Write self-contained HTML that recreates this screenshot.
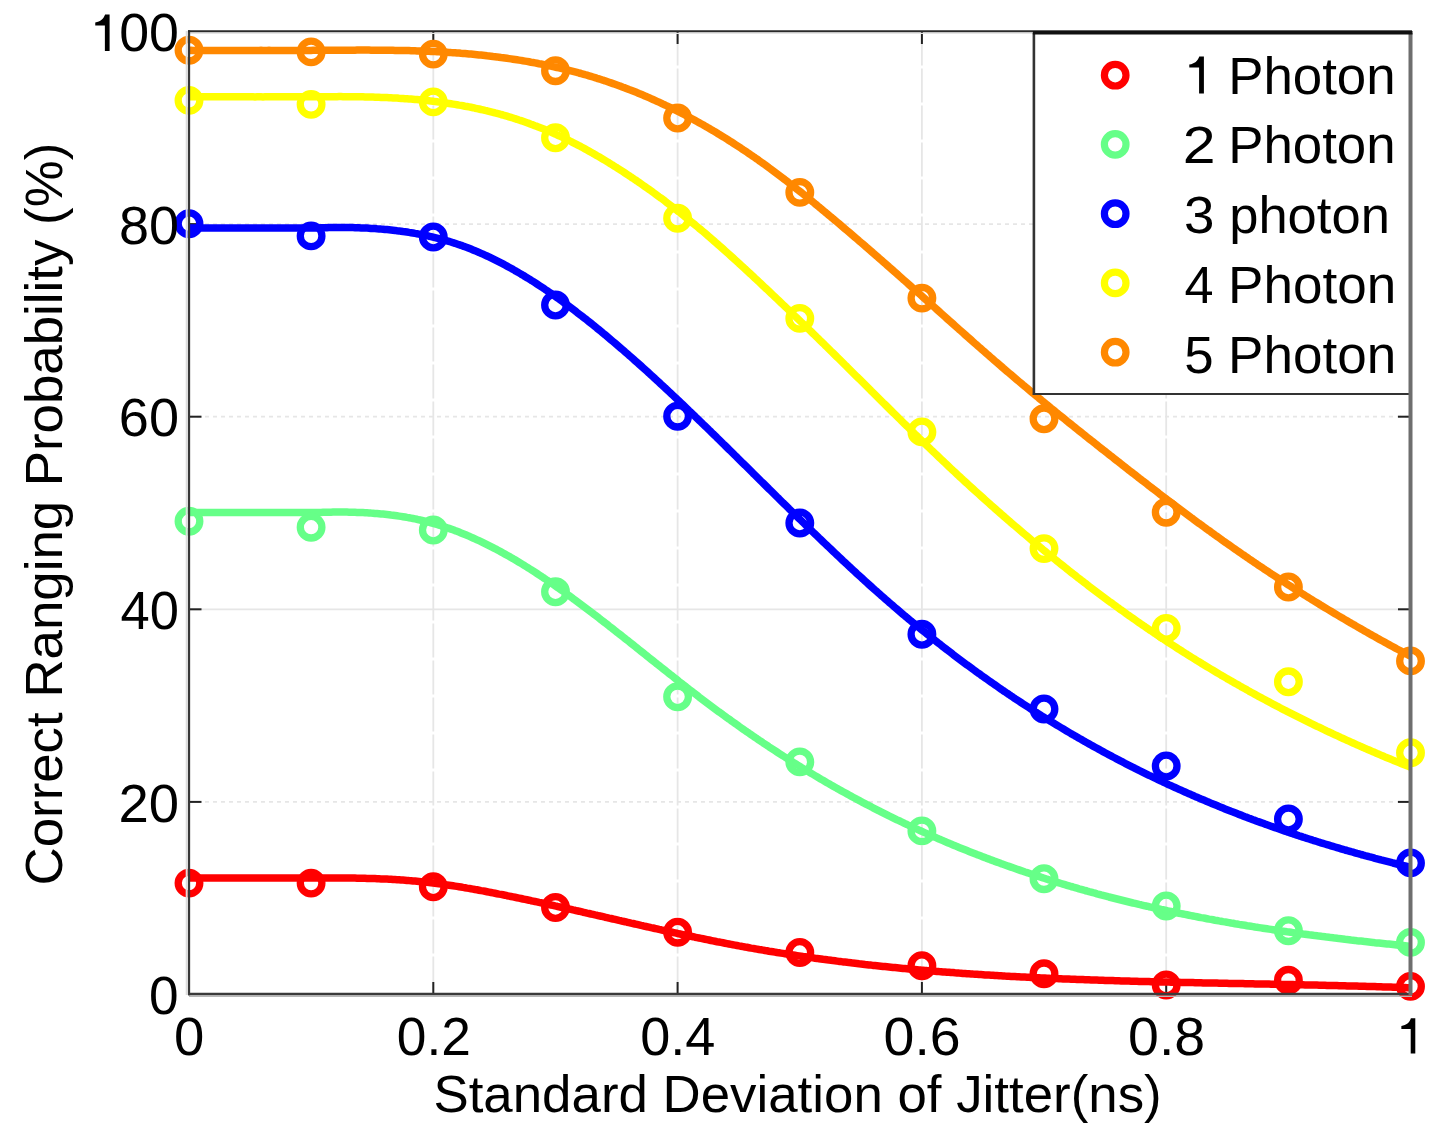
<!DOCTYPE html>
<html><head><meta charset="utf-8"><style>
html,body{margin:0;padding:0;background:#fff;width:1453px;height:1148px;overflow:hidden;font-family:"Liberation Sans",sans-serif;}
svg{display:block}
</style></head><body>
<svg width="1453" height="1148" viewBox="0 0 1453 1148">
<rect width="1453" height="1148" fill="#fff"/>
<g stroke="#e6e6e6" stroke-width="1.8"><line x1="189.0" y1="801.9" x2="1410.5" y2="801.9" stroke-dasharray="4 4"/><line x1="189.0" y1="416.7" x2="1410.5" y2="416.7" stroke-dasharray="4 4"/><line x1="189.0" y1="224.1" x2="1410.5" y2="224.1" stroke-dasharray="4 4"/><line x1="189.0" y1="609.3" x2="1410.5" y2="609.3"/><line x1="433.3" y1="31.5" x2="433.3" y2="994.5" stroke-dasharray="34 3"/><line x1="677.6" y1="31.5" x2="677.6" y2="994.5" stroke-dasharray="34 3"/><line x1="921.9" y1="31.5" x2="921.9" y2="994.5" stroke-dasharray="34 3"/><line x1="1166.2" y1="31.5" x2="1166.2" y2="994.5" stroke-dasharray="34 3"/></g>
<g stroke="#222" stroke-width="2"><line x1="433.3" y1="994.5" x2="433.3" y2="982.0"/><line x1="433.3" y1="31.5" x2="433.3" y2="44.0"/><line x1="677.6" y1="994.5" x2="677.6" y2="982.0"/><line x1="677.6" y1="31.5" x2="677.6" y2="44.0"/><line x1="921.9" y1="994.5" x2="921.9" y2="982.0"/><line x1="921.9" y1="31.5" x2="921.9" y2="44.0"/><line x1="1166.2" y1="994.5" x2="1166.2" y2="982.0"/><line x1="1166.2" y1="31.5" x2="1166.2" y2="44.0"/><line x1="189.0" y1="801.9" x2="201.5" y2="801.9"/><line x1="1410.5" y1="801.9" x2="1398.0" y2="801.9"/><line x1="189.0" y1="609.3" x2="201.5" y2="609.3"/><line x1="1410.5" y1="609.3" x2="1398.0" y2="609.3"/><line x1="189.0" y1="416.7" x2="201.5" y2="416.7"/><line x1="1410.5" y1="416.7" x2="1398.0" y2="416.7"/><line x1="189.0" y1="224.1" x2="201.5" y2="224.1"/><line x1="1410.5" y1="224.1" x2="1398.0" y2="224.1"/></g>
<polyline points="189.0,878.1 191.0,878.1 193.0,878.1 195.0,878.1 197.0,878.1 199.0,878.1 201.0,878.1 203.0,878.1 205.0,878.1 207.0,878.1 209.0,878.1 211.0,878.1 213.0,878.1 215.0,878.1 217.0,878.1 219.0,878.1 221.0,878.1 223.0,878.1 225.0,878.1 227.0,878.1 229.0,878.1 231.0,878.1 233.0,878.1 235.0,878.1 237.0,878.1 239.0,878.1 241.0,878.1 243.0,878.1 245.0,878.1 247.0,878.1 249.0,878.1 251.0,878.1 253.0,878.1 255.0,878.1 257.0,878.1 259.0,878.1 261.0,878.1 263.0,878.1 265.0,878.1 267.0,878.1 269.0,878.1 271.0,878.1 273.0,878.1 275.0,878.1 277.0,878.1 279.0,878.1 281.0,878.1 283.0,878.1 285.0,878.1 287.0,878.1 289.0,878.1 291.0,878.1 293.0,878.1 295.0,878.1 297.0,878.1 299.0,878.1 301.0,878.1 303.0,878.1 305.0,878.1 307.0,878.1 309.0,878.1 311.0,878.1 313.0,878.1 315.0,878.1 317.0,878.1 319.0,878.1 321.0,878.1 323.0,878.1 325.0,878.0 327.0,878.0 329.0,878.0 331.0,878.0 333.0,878.0 335.0,878.0 337.0,878.0 339.0,878.0 341.0,878.0 343.0,878.0 345.0,878.0 347.0,878.0 349.0,878.0 351.0,878.1 353.0,878.1 355.0,878.1 357.0,878.2 359.0,878.2 361.0,878.2 363.0,878.3 365.0,878.3 367.0,878.4 369.0,878.4 371.0,878.5 373.0,878.6 375.0,878.6 377.0,878.7 379.0,878.8 381.0,878.9 383.0,878.9 385.0,879.0 387.0,879.1 389.0,879.2 391.0,879.3 393.0,879.5 395.0,879.6 397.0,879.7 399.0,879.8 401.0,880.0 403.0,880.1 405.0,880.2 407.0,880.4 409.0,880.6 411.0,880.7 413.0,880.9 415.0,881.1 417.0,881.3 419.0,881.5 421.0,881.7 423.0,881.9 425.0,882.1 427.0,882.3 429.0,882.5 431.0,882.8 433.0,883.0 435.0,883.2 437.0,883.5 439.0,883.8 441.0,884.0 443.0,884.3 445.0,884.6 447.0,884.9 449.0,885.2 451.0,885.5 453.0,885.8 455.0,886.1 457.0,886.4 459.0,886.7 461.0,887.0 463.0,887.4 465.0,887.7 467.0,888.1 469.0,888.4 471.0,888.8 473.0,889.1 475.0,889.5 477.0,889.8 479.0,890.2 481.0,890.6 483.0,890.9 485.0,891.3 487.0,891.7 489.0,892.1 491.0,892.5 493.0,892.9 495.0,893.3 497.0,893.7 499.0,894.1 501.0,894.4 503.0,894.8 505.0,895.2 507.0,895.7 509.0,896.1 511.0,896.5 513.0,896.9 515.0,897.3 517.0,897.7 519.0,898.1 521.0,898.5 523.0,899.0 525.0,899.4 527.0,899.8 529.0,900.2 531.0,900.7 533.0,901.1 535.0,901.5 537.0,901.9 539.0,902.4 541.0,902.8 543.0,903.2 545.0,903.7 547.0,904.1 549.0,904.6 551.0,905.0 553.0,905.4 555.0,905.9 557.0,906.3 559.0,906.8 561.0,907.2 563.0,907.7 565.0,908.1 567.0,908.5 569.0,909.0 571.0,909.4 573.0,909.9 575.0,910.3 577.0,910.8 579.0,911.2 581.0,911.7 583.0,912.2 585.0,912.6 587.0,913.1 589.0,913.5 591.0,914.0 593.0,914.4 595.0,914.9 597.0,915.3 599.0,915.8 601.0,916.2 603.0,916.7 605.0,917.2 607.0,917.6 609.0,918.1 611.0,918.5 613.0,919.0 615.0,919.4 617.0,919.9 619.0,920.4 621.0,920.8 623.0,921.3 625.0,921.7 627.0,922.2 629.0,922.6 631.0,923.1 633.0,923.5 635.0,924.0 637.0,924.4 639.0,924.9 641.0,925.4 643.0,925.8 645.0,926.3 647.0,926.7 649.0,927.1 651.0,927.6 653.0,928.0 655.0,928.5 657.0,928.9 659.0,929.4 661.0,929.8 663.0,930.3 665.0,930.7 667.0,931.1 669.0,931.6 671.0,932.0 673.0,932.5 675.0,932.9 677.0,933.3 679.0,933.8 681.0,934.2 683.0,934.6 685.0,935.0 687.0,935.5 689.0,935.9 691.0,936.3 693.0,936.7 695.0,937.2 697.0,937.6 699.0,938.0 701.0,938.4 703.0,938.8 705.0,939.2 707.0,939.6 709.0,940.0 711.0,940.5 713.0,940.9 715.0,941.3 717.0,941.7 719.0,942.0 721.0,942.4 723.0,942.8 725.0,943.2 727.0,943.6 729.0,944.0 731.0,944.4 733.0,944.8 735.0,945.1 737.0,945.5 739.0,945.9 741.0,946.2 743.0,946.6 745.0,947.0 747.0,947.3 749.0,947.7 751.0,948.1 753.0,948.4 755.0,948.8 757.0,949.1 759.0,949.5 761.0,949.8 763.0,950.1 765.0,950.5 767.0,950.8 769.0,951.2 771.0,951.5 773.0,951.8 775.0,952.1 777.0,952.5 779.0,952.8 781.0,953.1 783.0,953.4 785.0,953.7 787.0,954.0 789.0,954.4 791.0,954.7 793.0,955.0 795.0,955.3 797.0,955.6 799.0,955.9 801.0,956.2 803.0,956.5 805.0,956.7 807.0,957.0 809.0,957.3 811.0,957.6 813.0,957.9 815.0,958.2 817.0,958.4 819.0,958.7 821.0,959.0 823.0,959.3 825.0,959.5 827.0,959.8 829.0,960.1 831.0,960.3 833.0,960.6 835.0,960.8 837.0,961.1 839.0,961.4 841.0,961.6 843.0,961.9 845.0,962.1 847.0,962.3 849.0,962.6 851.0,962.8 853.0,963.1 855.0,963.3 857.0,963.5 859.0,963.8 861.0,964.0 863.0,964.2 865.0,964.5 867.0,964.7 869.0,964.9 871.0,965.1 873.0,965.4 875.0,965.6 877.0,965.8 879.0,966.0 881.0,966.2 883.0,966.4 885.0,966.6 887.0,966.8 889.0,967.0 891.0,967.2 893.0,967.4 895.0,967.6 897.0,967.8 899.0,968.0 901.0,968.2 903.0,968.4 905.0,968.6 907.0,968.8 909.0,969.0 911.0,969.2 913.0,969.3 915.0,969.5 917.0,969.7 919.0,969.9 921.0,970.1 923.0,970.2 925.0,970.4 927.0,970.6 929.0,970.7 931.0,970.9 933.0,971.1 935.0,971.2 937.0,971.4 939.0,971.6 941.0,971.7 943.0,971.9 945.0,972.0 947.0,972.2 949.0,972.3 951.0,972.5 953.0,972.6 955.0,972.8 957.0,972.9 959.0,973.1 961.0,973.2 963.0,973.4 965.0,973.5 967.0,973.7 969.0,973.8 971.0,973.9 973.0,974.1 975.0,974.2 977.0,974.3 979.0,974.5 981.0,974.6 983.0,974.7 985.0,974.9 987.0,975.0 989.0,975.1 991.0,975.2 993.0,975.3 995.0,975.5 997.0,975.6 999.0,975.7 1001.0,975.8 1003.0,975.9 1005.0,976.1 1007.0,976.2 1009.0,976.3 1011.0,976.4 1013.0,976.5 1015.0,976.6 1017.0,976.7 1019.0,976.8 1021.0,976.9 1023.0,977.0 1025.0,977.1 1027.0,977.2 1029.0,977.3 1031.0,977.4 1033.0,977.5 1035.0,977.6 1037.0,977.7 1039.0,977.8 1041.0,977.9 1043.0,978.0 1045.0,978.1 1047.0,978.2 1049.0,978.3 1051.0,978.4 1053.0,978.4 1055.0,978.5 1057.0,978.6 1059.0,978.7 1061.0,978.8 1063.0,978.9 1065.0,978.9 1067.0,979.0 1069.0,979.1 1071.0,979.2 1073.0,979.3 1075.0,979.3 1077.0,979.4 1079.0,979.5 1081.0,979.6 1083.0,979.6 1085.0,979.7 1087.0,979.8 1089.0,979.8 1091.0,979.9 1093.0,980.0 1095.0,980.1 1097.0,980.1 1099.0,980.2 1101.0,980.3 1103.0,980.3 1105.0,980.4 1107.0,980.4 1109.0,980.5 1111.0,980.6 1113.0,980.6 1115.0,980.7 1117.0,980.8 1119.0,980.8 1121.0,980.9 1123.0,980.9 1125.0,981.0 1127.0,981.0 1129.0,981.1 1131.0,981.2 1133.0,981.2 1135.0,981.3 1137.0,981.3 1139.0,981.4 1141.0,981.4 1143.0,981.5 1145.0,981.5 1147.0,981.6 1149.0,981.6 1151.0,981.7 1153.0,981.7 1155.0,981.8 1157.0,981.8 1159.0,981.9 1161.0,981.9 1163.0,982.0 1165.0,982.0 1167.0,982.1 1169.0,982.1 1171.0,982.2 1173.0,982.2 1175.0,982.3 1177.0,982.3 1179.0,982.3 1181.0,982.4 1183.0,982.4 1185.0,982.5 1187.0,982.5 1189.0,982.6 1191.0,982.6 1193.0,982.6 1195.0,982.7 1197.0,982.7 1199.0,982.8 1201.0,982.8 1203.0,982.9 1205.0,982.9 1207.0,982.9 1209.0,983.0 1211.0,983.0 1213.0,983.1 1215.0,983.1 1217.0,983.1 1219.0,983.2 1221.0,983.2 1223.0,983.3 1225.0,983.3 1227.0,983.3 1229.0,983.4 1231.0,983.4 1233.0,983.4 1235.0,983.5 1237.0,983.5 1239.0,983.6 1241.0,983.6 1243.0,983.6 1245.0,983.7 1247.0,983.7 1249.0,983.8 1251.0,983.8 1253.0,983.8 1255.0,983.9 1257.0,983.9 1259.0,983.9 1261.0,984.0 1263.0,984.0 1265.0,984.1 1267.0,984.1 1269.0,984.1 1271.0,984.2 1273.0,984.2 1275.0,984.3 1277.0,984.3 1279.0,984.3 1281.0,984.4 1283.0,984.4 1285.0,984.5 1287.0,984.5 1289.0,984.5 1291.0,984.6 1293.0,984.6 1295.0,984.7 1297.0,984.7 1299.0,984.7 1301.0,984.8 1303.0,984.8 1305.0,984.9 1307.0,984.9 1309.0,985.0 1311.0,985.0 1313.0,985.0 1315.0,985.1 1317.0,985.1 1319.0,985.2 1321.0,985.2 1323.0,985.3 1325.0,985.3 1327.0,985.4 1329.0,985.4 1331.0,985.5 1333.0,985.5 1335.0,985.6 1337.0,985.6 1339.0,985.7 1341.0,985.7 1343.0,985.8 1345.0,985.8 1347.0,985.9 1349.0,985.9 1351.0,986.0 1353.0,986.0 1355.0,986.1 1357.0,986.1 1359.0,986.2 1361.0,986.2 1363.0,986.3 1365.0,986.3 1367.0,986.4 1369.0,986.5 1371.0,986.5 1373.0,986.6 1375.0,986.6 1377.0,986.7 1379.0,986.8 1381.0,986.8 1383.0,986.9 1385.0,986.9 1387.0,987.0 1389.0,987.1 1391.0,987.1 1393.0,987.2 1395.0,987.3 1397.0,987.3 1399.0,987.4 1401.0,987.5 1403.0,987.5 1405.0,987.6 1407.0,987.7 1409.0,987.8 1410.5,987.8" fill="none" stroke="#ff0000" stroke-width="7.5" stroke-linejoin="round" stroke-linecap="butt"/>
<polyline points="189.0,512.5 191.0,512.5 193.0,512.5 195.0,512.5 197.0,512.5 199.0,512.5 201.0,512.5 203.0,512.5 205.0,512.5 207.0,512.5 209.0,512.5 211.0,512.5 213.0,512.5 215.0,512.5 217.0,512.5 219.0,512.5 221.0,512.5 223.0,512.5 225.0,512.5 227.0,512.5 229.0,512.5 231.0,512.5 233.0,512.5 235.0,512.5 237.0,512.5 239.0,512.5 241.0,512.5 243.0,512.5 245.0,512.5 247.0,512.5 249.0,512.5 251.0,512.5 253.0,512.5 255.0,512.5 257.0,512.5 259.0,512.5 261.0,512.5 263.0,512.5 265.0,512.5 267.0,512.5 269.0,512.5 271.0,512.5 273.0,512.5 275.0,512.5 277.0,512.5 279.0,512.5 281.0,512.5 283.0,512.5 285.0,512.5 287.0,512.5 289.0,512.5 291.0,512.5 293.0,512.5 295.0,512.5 297.0,512.5 299.0,512.5 301.0,512.5 303.0,512.5 305.0,512.5 307.0,512.5 309.0,512.5 311.0,512.5 313.0,512.5 315.0,512.5 317.0,512.5 319.0,512.4 321.0,512.4 323.0,512.3 325.0,512.3 327.0,512.2 329.0,512.2 331.0,512.2 333.0,512.1 335.0,512.1 337.0,512.1 339.0,512.1 341.0,512.1 343.0,512.1 345.0,512.1 347.0,512.1 349.0,512.2 351.0,512.2 353.0,512.3 355.0,512.3 357.0,512.4 359.0,512.4 361.0,512.5 363.0,512.6 365.0,512.7 367.0,512.8 369.0,512.9 371.0,513.1 373.0,513.2 375.0,513.4 377.0,513.5 379.0,513.7 381.0,513.9 383.0,514.1 385.0,514.3 387.0,514.5 389.0,514.7 391.0,515.0 393.0,515.2 395.0,515.5 397.0,515.8 399.0,516.1 401.0,516.4 403.0,516.7 405.0,517.0 407.0,517.4 409.0,517.7 411.0,518.1 413.0,518.5 415.0,518.9 417.0,519.3 419.0,519.8 421.0,520.2 423.0,520.7 425.0,521.2 427.0,521.7 429.0,522.2 431.0,522.8 433.0,523.3 435.0,523.9 437.0,524.5 439.0,525.1 441.0,525.7 443.0,526.3 445.0,527.0 447.0,527.7 449.0,528.4 451.0,529.1 453.0,529.8 455.0,530.6 457.0,531.3 459.0,532.1 461.0,532.9 463.0,533.7 465.0,534.5 467.0,535.3 469.0,536.2 471.0,537.1 473.0,538.0 475.0,538.9 477.0,539.8 479.0,540.7 481.0,541.6 483.0,542.6 485.0,543.6 487.0,544.6 489.0,545.6 491.0,546.6 493.0,547.6 495.0,548.7 497.0,549.7 499.0,550.8 501.0,551.9 503.0,553.0 505.0,554.1 507.0,555.2 509.0,556.3 511.0,557.5 513.0,558.6 515.0,559.8 517.0,561.0 519.0,562.2 521.0,563.4 523.0,564.6 525.0,565.9 527.0,567.1 529.0,568.4 531.0,569.6 533.0,570.9 535.0,572.2 537.0,573.5 539.0,574.8 541.0,576.1 543.0,577.5 545.0,578.8 547.0,580.2 549.0,581.5 551.0,582.9 553.0,584.3 555.0,585.7 557.0,587.1 559.0,588.5 561.0,589.9 563.0,591.3 565.0,592.7 567.0,594.2 569.0,595.6 571.0,597.1 573.0,598.6 575.0,600.0 577.0,601.5 579.0,603.0 581.0,604.5 583.0,606.0 585.0,607.5 587.0,609.0 589.0,610.5 591.0,612.0 593.0,613.5 595.0,615.1 597.0,616.6 599.0,618.1 601.0,619.7 603.0,621.2 605.0,622.8 607.0,624.3 609.0,625.9 611.0,627.4 613.0,629.0 615.0,630.6 617.0,632.2 619.0,633.7 621.0,635.3 623.0,636.9 625.0,638.5 627.0,640.1 629.0,641.6 631.0,643.2 633.0,644.8 635.0,646.4 637.0,648.0 639.0,649.6 641.0,651.2 643.0,652.8 645.0,654.4 647.0,656.0 649.0,657.6 651.0,659.2 653.0,660.8 655.0,662.4 657.0,664.0 659.0,665.5 661.0,667.1 663.0,668.7 665.0,670.3 667.0,671.9 669.0,673.5 671.0,675.1 673.0,676.6 675.0,678.2 677.0,679.8 679.0,681.4 681.0,682.9 683.0,684.5 685.0,686.0 687.0,687.6 689.0,689.2 691.0,690.7 693.0,692.3 695.0,693.8 697.0,695.3 699.0,696.9 701.0,698.4 703.0,699.9 705.0,701.4 707.0,702.9 709.0,704.4 711.0,705.9 713.0,707.4 715.0,708.9 717.0,710.4 719.0,711.9 721.0,713.3 723.0,714.8 725.0,716.2 727.0,717.7 729.0,719.1 731.0,720.6 733.0,722.0 735.0,723.4 737.0,724.8 739.0,726.3 741.0,727.7 743.0,729.1 745.0,730.5 747.0,731.9 749.0,733.2 751.0,734.6 753.0,736.0 755.0,737.4 757.0,738.7 759.0,740.1 761.0,741.4 763.0,742.8 765.0,744.1 767.0,745.4 769.0,746.8 771.0,748.1 773.0,749.4 775.0,750.7 777.0,752.0 779.0,753.3 781.0,754.6 783.0,755.9 785.0,757.1 787.0,758.4 789.0,759.7 791.0,760.9 793.0,762.2 795.0,763.4 797.0,764.7 799.0,765.9 801.0,767.2 803.0,768.4 805.0,769.6 807.0,770.8 809.0,772.0 811.0,773.2 813.0,774.4 815.0,775.6 817.0,776.8 819.0,778.0 821.0,779.2 823.0,780.3 825.0,781.5 827.0,782.7 829.0,783.8 831.0,785.0 833.0,786.1 835.0,787.2 837.0,788.4 839.0,789.5 841.0,790.6 843.0,791.7 845.0,792.8 847.0,793.9 849.0,795.0 851.0,796.1 853.0,797.2 855.0,798.3 857.0,799.4 859.0,800.4 861.0,801.5 863.0,802.6 865.0,803.6 867.0,804.7 869.0,805.7 871.0,806.7 873.0,807.8 875.0,808.8 877.0,809.8 879.0,810.8 881.0,811.9 883.0,812.9 885.0,813.9 887.0,814.9 889.0,815.9 891.0,816.8 893.0,817.8 895.0,818.8 897.0,819.8 899.0,820.7 901.0,821.7 903.0,822.6 905.0,823.6 907.0,824.5 909.0,825.5 911.0,826.4 913.0,827.3 915.0,828.3 917.0,829.2 919.0,830.1 921.0,831.0 923.0,831.9 925.0,832.8 927.0,833.7 929.0,834.6 931.0,835.5 933.0,836.4 935.0,837.2 937.0,838.1 939.0,839.0 941.0,839.8 943.0,840.7 945.0,841.6 947.0,842.4 949.0,843.2 951.0,844.1 953.0,844.9 955.0,845.7 957.0,846.6 959.0,847.4 961.0,848.2 963.0,849.0 965.0,849.8 967.0,850.6 969.0,851.4 971.0,852.2 973.0,853.0 975.0,853.8 977.0,854.6 979.0,855.3 981.0,856.1 983.0,856.9 985.0,857.6 987.0,858.4 989.0,859.1 991.0,859.9 993.0,860.6 995.0,861.4 997.0,862.1 999.0,862.8 1001.0,863.6 1003.0,864.3 1005.0,865.0 1007.0,865.7 1009.0,866.4 1011.0,867.1 1013.0,867.8 1015.0,868.5 1017.0,869.2 1019.0,869.9 1021.0,870.6 1023.0,871.3 1025.0,872.0 1027.0,872.6 1029.0,873.3 1031.0,874.0 1033.0,874.6 1035.0,875.3 1037.0,876.0 1039.0,876.6 1041.0,877.2 1043.0,877.9 1045.0,878.5 1047.0,879.2 1049.0,879.8 1051.0,880.4 1053.0,881.0 1055.0,881.7 1057.0,882.3 1059.0,882.9 1061.0,883.5 1063.0,884.1 1065.0,884.7 1067.0,885.3 1069.0,885.9 1071.0,886.5 1073.0,887.0 1075.0,887.6 1077.0,888.2 1079.0,888.8 1081.0,889.3 1083.0,889.9 1085.0,890.5 1087.0,891.0 1089.0,891.6 1091.0,892.1 1093.0,892.7 1095.0,893.2 1097.0,893.8 1099.0,894.3 1101.0,894.9 1103.0,895.4 1105.0,895.9 1107.0,896.4 1109.0,897.0 1111.0,897.5 1113.0,898.0 1115.0,898.5 1117.0,899.0 1119.0,899.5 1121.0,900.0 1123.0,900.5 1125.0,901.0 1127.0,901.5 1129.0,902.0 1131.0,902.5 1133.0,903.0 1135.0,903.4 1137.0,903.9 1139.0,904.4 1141.0,904.8 1143.0,905.3 1145.0,905.8 1147.0,906.2 1149.0,906.7 1151.0,907.1 1153.0,907.6 1155.0,908.0 1157.0,908.5 1159.0,908.9 1161.0,909.4 1163.0,909.8 1165.0,910.2 1167.0,910.7 1169.0,911.1 1171.0,911.5 1173.0,911.9 1175.0,912.4 1177.0,912.8 1179.0,913.2 1181.0,913.6 1183.0,914.0 1185.0,914.4 1187.0,914.8 1189.0,915.2 1191.0,915.6 1193.0,916.0 1195.0,916.4 1197.0,916.8 1199.0,917.2 1201.0,917.6 1203.0,917.9 1205.0,918.3 1207.0,918.7 1209.0,919.1 1211.0,919.4 1213.0,919.8 1215.0,920.2 1217.0,920.5 1219.0,920.9 1221.0,921.2 1223.0,921.6 1225.0,921.9 1227.0,922.3 1229.0,922.6 1231.0,923.0 1233.0,923.3 1235.0,923.7 1237.0,924.0 1239.0,924.4 1241.0,924.7 1243.0,925.0 1245.0,925.3 1247.0,925.7 1249.0,926.0 1251.0,926.3 1253.0,926.6 1255.0,927.0 1257.0,927.3 1259.0,927.6 1261.0,927.9 1263.0,928.2 1265.0,928.5 1267.0,928.8 1269.0,929.1 1271.0,929.4 1273.0,929.7 1275.0,930.0 1277.0,930.3 1279.0,930.6 1281.0,930.9 1283.0,931.2 1285.0,931.5 1287.0,931.8 1289.0,932.0 1291.0,932.3 1293.0,932.6 1295.0,932.9 1297.0,933.2 1299.0,933.4 1301.0,933.7 1303.0,934.0 1305.0,934.2 1307.0,934.5 1309.0,934.8 1311.0,935.0 1313.0,935.3 1315.0,935.6 1317.0,935.8 1319.0,936.1 1321.0,936.3 1323.0,936.6 1325.0,936.8 1327.0,937.1 1329.0,937.3 1331.0,937.6 1333.0,937.8 1335.0,938.1 1337.0,938.3 1339.0,938.6 1341.0,938.8 1343.0,939.0 1345.0,939.3 1347.0,939.5 1349.0,939.7 1351.0,940.0 1353.0,940.2 1355.0,940.4 1357.0,940.7 1359.0,940.9 1361.0,941.1 1363.0,941.3 1365.0,941.6 1367.0,941.8 1369.0,942.0 1371.0,942.2 1373.0,942.4 1375.0,942.7 1377.0,942.9 1379.0,943.1 1381.0,943.3 1383.0,943.5 1385.0,943.7 1387.0,943.9 1389.0,944.1 1391.0,944.3 1393.0,944.5 1395.0,944.7 1397.0,945.0 1399.0,945.2 1401.0,945.4 1403.0,945.6 1405.0,945.8 1407.0,946.0 1409.0,946.2 1410.5,946.3" fill="none" stroke="#66ff88" stroke-width="7.5" stroke-linejoin="round" stroke-linecap="butt"/>
<polyline points="189.0,228.0 191.0,228.0 193.0,228.0 195.0,228.0 197.0,228.0 199.0,228.0 201.0,228.0 203.0,228.0 205.0,228.0 207.0,228.0 209.0,228.0 211.0,228.0 213.0,228.0 215.0,228.0 217.0,228.0 219.0,228.0 221.0,228.0 223.0,228.0 225.0,228.0 227.0,228.0 229.0,228.0 231.0,228.0 233.0,228.0 235.0,228.0 237.0,228.0 239.0,228.0 241.0,228.0 243.0,228.0 245.0,228.0 247.0,228.0 249.0,228.0 251.0,228.0 253.0,228.0 255.0,228.0 257.0,228.0 259.0,228.0 261.0,228.0 263.0,228.0 265.0,228.0 267.0,228.0 269.0,228.0 271.0,228.0 273.0,228.0 275.0,228.0 277.0,228.0 279.0,228.0 281.0,228.0 283.0,228.0 285.0,228.0 287.0,228.0 289.0,228.0 291.0,228.0 293.0,228.0 295.0,228.0 297.0,228.0 299.0,228.0 301.0,228.0 303.0,228.0 305.0,228.0 307.0,228.0 309.0,228.0 311.0,228.0 313.0,228.0 315.0,228.0 317.0,227.9 319.0,227.9 321.0,227.8 323.0,227.8 325.0,227.7 327.0,227.7 329.0,227.6 331.0,227.6 333.0,227.5 335.0,227.5 337.0,227.5 339.0,227.5 341.0,227.5 343.0,227.5 345.0,227.5 347.0,227.5 349.0,227.6 351.0,227.6 353.0,227.6 355.0,227.7 357.0,227.8 359.0,227.8 361.0,227.9 363.0,227.9 365.0,228.0 367.0,228.1 369.0,228.2 371.0,228.4 373.0,228.5 375.0,228.6 377.0,228.8 379.0,228.9 381.0,229.1 383.0,229.2 385.0,229.4 387.0,229.6 389.0,229.8 391.0,230.0 393.0,230.2 395.0,230.4 397.0,230.7 399.0,230.9 401.0,231.2 403.0,231.5 405.0,231.7 407.0,232.0 409.0,232.4 411.0,232.7 413.0,233.0 415.0,233.4 417.0,233.7 419.0,234.1 421.0,234.5 423.0,234.9 425.0,235.3 427.0,235.7 429.0,236.2 431.0,236.6 433.0,237.1 435.0,237.6 437.0,238.1 439.0,238.6 441.0,239.1 443.0,239.7 445.0,240.2 447.0,240.8 449.0,241.4 451.0,242.0 453.0,242.7 455.0,243.3 457.0,244.0 459.0,244.7 461.0,245.3 463.0,246.1 465.0,246.8 467.0,247.5 469.0,248.3 471.0,249.1 473.0,249.9 475.0,250.7 477.0,251.6 479.0,252.4 481.0,253.3 483.0,254.2 485.0,255.1 487.0,256.0 489.0,256.9 491.0,257.9 493.0,258.9 495.0,259.9 497.0,260.9 499.0,261.9 501.0,262.9 503.0,263.9 505.0,265.0 507.0,266.1 509.0,267.2 511.0,268.3 513.0,269.4 515.0,270.6 517.0,271.7 519.0,272.9 521.0,274.1 523.0,275.2 525.0,276.5 527.0,277.7 529.0,278.9 531.0,280.2 533.0,281.4 535.0,282.7 537.0,284.0 539.0,285.3 541.0,286.6 543.0,287.9 545.0,289.3 547.0,290.6 549.0,292.0 551.0,293.4 553.0,294.8 555.0,296.2 557.0,297.6 559.0,299.0 561.0,300.5 563.0,301.9 565.0,303.4 567.0,304.8 569.0,306.3 571.0,307.8 573.0,309.3 575.0,310.8 577.0,312.4 579.0,313.9 581.0,315.4 583.0,317.0 585.0,318.6 587.0,320.1 589.0,321.7 591.0,323.3 593.0,324.9 595.0,326.5 597.0,328.2 599.0,329.8 601.0,331.4 603.0,333.1 605.0,334.7 607.0,336.4 609.0,338.1 611.0,339.8 613.0,341.5 615.0,343.2 617.0,344.9 619.0,346.6 621.0,348.3 623.0,350.0 625.0,351.8 627.0,353.5 629.0,355.3 631.0,357.0 633.0,358.8 635.0,360.6 637.0,362.3 639.0,364.1 641.0,365.9 643.0,367.7 645.0,369.5 647.0,371.3 649.0,373.1 651.0,375.0 653.0,376.8 655.0,378.6 657.0,380.5 659.0,382.3 661.0,384.2 663.0,386.0 665.0,387.9 667.0,389.7 669.0,391.6 671.0,393.5 673.0,395.4 675.0,397.3 677.0,399.1 679.0,401.0 681.0,402.9 683.0,404.8 685.0,406.7 687.0,408.6 689.0,410.6 691.0,412.5 693.0,414.4 695.0,416.3 697.0,418.3 699.0,420.2 701.0,422.1 703.0,424.1 705.0,426.0 707.0,427.9 709.0,429.9 711.0,431.8 713.0,433.8 715.0,435.7 717.0,437.7 719.0,439.6 721.0,441.6 723.0,443.6 725.0,445.5 727.0,447.5 729.0,449.5 731.0,451.4 733.0,453.4 735.0,455.4 737.0,457.3 739.0,459.3 741.0,461.3 743.0,463.3 745.0,465.2 747.0,467.2 749.0,469.2 751.0,471.2 753.0,473.2 755.0,475.1 757.0,477.1 759.0,479.1 761.0,481.1 763.0,483.0 765.0,485.0 767.0,487.0 769.0,489.0 771.0,490.9 773.0,492.9 775.0,494.9 777.0,496.9 779.0,498.8 781.0,500.8 783.0,502.8 785.0,504.7 787.0,506.7 789.0,508.7 791.0,510.6 793.0,512.6 795.0,514.6 797.0,516.5 799.0,518.5 801.0,520.4 803.0,522.4 805.0,524.3 807.0,526.3 809.0,528.2 811.0,530.1 813.0,532.1 815.0,534.0 817.0,535.9 819.0,537.9 821.0,539.8 823.0,541.7 825.0,543.6 827.0,545.5 829.0,547.4 831.0,549.3 833.0,551.2 835.0,553.1 837.0,555.0 839.0,556.9 841.0,558.8 843.0,560.7 845.0,562.5 847.0,564.4 849.0,566.3 851.0,568.1 853.0,570.0 855.0,571.8 857.0,573.7 859.0,575.5 861.0,577.3 863.0,579.1 865.0,581.0 867.0,582.8 869.0,584.6 871.0,586.4 873.0,588.2 875.0,590.0 877.0,591.7 879.0,593.5 881.0,595.3 883.0,597.0 885.0,598.8 887.0,600.5 889.0,602.3 891.0,604.0 893.0,605.7 895.0,607.5 897.0,609.2 899.0,610.9 901.0,612.6 903.0,614.3 905.0,616.0 907.0,617.6 909.0,619.3 911.0,621.0 913.0,622.6 915.0,624.3 917.0,625.9 919.0,627.6 921.0,629.2 923.0,630.8 925.0,632.4 927.0,634.0 929.0,635.6 931.0,637.2 933.0,638.8 935.0,640.4 937.0,642.0 939.0,643.6 941.0,645.1 943.0,646.7 945.0,648.2 947.0,649.8 949.0,651.3 951.0,652.8 953.0,654.4 955.0,655.9 957.0,657.4 959.0,658.9 961.0,660.4 963.0,661.9 965.0,663.4 967.0,664.9 969.0,666.3 971.0,667.8 973.0,669.3 975.0,670.7 977.0,672.2 979.0,673.6 981.0,675.1 983.0,676.5 985.0,677.9 987.0,679.3 989.0,680.7 991.0,682.1 993.0,683.5 995.0,684.9 997.0,686.3 999.0,687.7 1001.0,689.1 1003.0,690.5 1005.0,691.8 1007.0,693.2 1009.0,694.5 1011.0,695.9 1013.0,697.2 1015.0,698.6 1017.0,699.9 1019.0,701.2 1021.0,702.5 1023.0,703.8 1025.0,705.1 1027.0,706.4 1029.0,707.7 1031.0,709.0 1033.0,710.3 1035.0,711.6 1037.0,712.8 1039.0,714.1 1041.0,715.4 1043.0,716.6 1045.0,717.9 1047.0,719.1 1049.0,720.3 1051.0,721.6 1053.0,722.8 1055.0,724.0 1057.0,725.2 1059.0,726.4 1061.0,727.6 1063.0,728.8 1065.0,730.0 1067.0,731.2 1069.0,732.4 1071.0,733.6 1073.0,734.7 1075.0,735.9 1077.0,737.0 1079.0,738.2 1081.0,739.3 1083.0,740.5 1085.0,741.6 1087.0,742.8 1089.0,743.9 1091.0,745.0 1093.0,746.1 1095.0,747.2 1097.0,748.3 1099.0,749.4 1101.0,750.5 1103.0,751.6 1105.0,752.7 1107.0,753.8 1109.0,754.9 1111.0,755.9 1113.0,757.0 1115.0,758.0 1117.0,759.1 1119.0,760.1 1121.0,761.2 1123.0,762.2 1125.0,763.3 1127.0,764.3 1129.0,765.3 1131.0,766.3 1133.0,767.3 1135.0,768.4 1137.0,769.4 1139.0,770.4 1141.0,771.3 1143.0,772.3 1145.0,773.3 1147.0,774.3 1149.0,775.3 1151.0,776.2 1153.0,777.2 1155.0,778.2 1157.0,779.1 1159.0,780.1 1161.0,781.0 1163.0,782.0 1165.0,782.9 1167.0,783.8 1169.0,784.8 1171.0,785.7 1173.0,786.6 1175.0,787.5 1177.0,788.4 1179.0,789.3 1181.0,790.2 1183.0,791.1 1185.0,792.0 1187.0,792.9 1189.0,793.8 1191.0,794.6 1193.0,795.5 1195.0,796.4 1197.0,797.2 1199.0,798.1 1201.0,799.0 1203.0,799.8 1205.0,800.6 1207.0,801.5 1209.0,802.3 1211.0,803.2 1213.0,804.0 1215.0,804.8 1217.0,805.6 1219.0,806.4 1221.0,807.3 1223.0,808.1 1225.0,808.9 1227.0,809.7 1229.0,810.5 1231.0,811.3 1233.0,812.0 1235.0,812.8 1237.0,813.6 1239.0,814.4 1241.0,815.1 1243.0,815.9 1245.0,816.7 1247.0,817.4 1249.0,818.2 1251.0,818.9 1253.0,819.7 1255.0,820.4 1257.0,821.2 1259.0,821.9 1261.0,822.6 1263.0,823.3 1265.0,824.1 1267.0,824.8 1269.0,825.5 1271.0,826.2 1273.0,826.9 1275.0,827.6 1277.0,828.3 1279.0,829.0 1281.0,829.7 1283.0,830.4 1285.0,831.1 1287.0,831.8 1289.0,832.4 1291.0,833.1 1293.0,833.8 1295.0,834.4 1297.0,835.1 1299.0,835.8 1301.0,836.4 1303.0,837.1 1305.0,837.7 1307.0,838.4 1309.0,839.0 1311.0,839.6 1313.0,840.3 1315.0,840.9 1317.0,841.5 1319.0,842.2 1321.0,842.8 1323.0,843.4 1325.0,844.0 1327.0,844.6 1329.0,845.2 1331.0,845.8 1333.0,846.4 1335.0,847.0 1337.0,847.6 1339.0,848.2 1341.0,848.8 1343.0,849.4 1345.0,850.0 1347.0,850.5 1349.0,851.1 1351.0,851.7 1353.0,852.2 1355.0,852.8 1357.0,853.4 1359.0,853.9 1361.0,854.5 1363.0,855.0 1365.0,855.6 1367.0,856.1 1369.0,856.7 1371.0,857.2 1373.0,857.7 1375.0,858.3 1377.0,858.8 1379.0,859.3 1381.0,859.9 1383.0,860.4 1385.0,860.9 1387.0,861.4 1389.0,861.9 1391.0,862.4 1393.0,863.0 1395.0,863.5 1397.0,864.0 1399.0,864.5 1401.0,865.0 1403.0,865.5 1405.0,865.9 1407.0,866.4 1409.0,866.9 1410.5,867.3" fill="none" stroke="#0000ff" stroke-width="7.5" stroke-linejoin="round" stroke-linecap="butt"/>
<polyline points="189.0,96.8 191.0,96.8 193.0,96.8 195.0,96.8 197.0,96.8 199.0,96.8 201.0,96.8 203.0,96.8 205.0,96.8 207.0,96.8 209.0,96.8 211.0,96.8 213.0,96.8 215.0,96.8 217.0,96.8 219.0,96.8 221.0,96.8 223.0,96.8 225.0,96.8 227.0,96.8 229.0,96.8 231.0,96.8 233.0,96.8 235.0,96.8 237.0,96.8 239.0,96.8 241.0,96.8 243.0,96.8 245.0,96.8 247.0,96.8 249.0,96.8 251.0,96.8 253.0,96.8 255.0,96.9 257.0,96.8 259.0,96.8 261.0,96.8 263.0,96.9 265.0,96.8 267.0,96.8 269.0,96.8 271.0,96.8 273.0,96.8 275.0,96.8 277.0,96.8 279.0,96.8 281.0,96.8 283.0,96.8 285.0,96.8 287.0,96.8 289.0,96.8 291.0,96.8 293.0,96.8 295.0,96.8 297.0,96.8 299.0,96.8 301.0,96.8 303.0,96.8 305.0,96.8 307.0,96.8 309.0,96.8 311.0,96.8 313.0,96.8 315.0,96.8 317.0,96.8 319.0,96.8 321.0,96.8 323.0,96.8 325.0,96.8 327.0,96.7 329.0,96.7 331.0,96.7 333.0,96.7 335.0,96.7 337.0,96.7 339.0,96.6 341.0,96.6 343.0,96.7 345.0,96.7 347.0,96.7 349.0,96.7 351.0,96.7 353.0,96.7 355.0,96.7 357.0,96.8 359.0,96.8 361.0,96.8 363.0,96.8 365.0,96.9 367.0,96.9 369.0,97.0 371.0,97.0 373.0,97.1 375.0,97.2 377.0,97.2 379.0,97.3 381.0,97.4 383.0,97.4 385.0,97.5 387.0,97.6 389.0,97.7 391.0,97.8 393.0,97.9 395.0,98.0 397.0,98.1 399.0,98.3 401.0,98.4 403.0,98.5 405.0,98.7 407.0,98.8 409.0,99.0 411.0,99.1 413.0,99.3 415.0,99.5 417.0,99.6 419.0,99.8 421.0,100.0 423.0,100.2 425.0,100.4 427.0,100.6 429.0,100.8 431.0,101.1 433.0,101.3 435.0,101.6 437.0,101.8 439.0,102.1 441.0,102.3 443.0,102.6 445.0,102.9 447.0,103.2 449.0,103.5 451.0,103.8 453.0,104.1 455.0,104.4 457.0,104.7 459.0,105.1 461.0,105.4 463.0,105.8 465.0,106.2 467.0,106.5 469.0,106.9 471.0,107.3 473.0,107.7 475.0,108.2 477.0,108.6 479.0,109.0 481.0,109.5 483.0,109.9 485.0,110.4 487.0,110.8 489.0,111.3 491.0,111.8 493.0,112.3 495.0,112.9 497.0,113.4 499.0,113.9 501.0,114.5 503.0,115.0 505.0,115.6 507.0,116.2 509.0,116.8 511.0,117.4 513.0,118.0 515.0,118.7 517.0,119.3 519.0,120.0 521.0,120.6 523.0,121.3 525.0,122.0 527.0,122.7 529.0,123.4 531.0,124.2 533.0,124.9 535.0,125.7 537.0,126.4 539.0,127.2 541.0,128.0 543.0,128.8 545.0,129.6 547.0,130.5 549.0,131.3 551.0,132.2 553.0,133.1 555.0,133.9 557.0,134.8 559.0,135.8 561.0,136.7 563.0,137.6 565.0,138.6 567.0,139.6 569.0,140.5 571.0,141.5 573.0,142.6 575.0,143.6 577.0,144.6 579.0,145.7 581.0,146.7 583.0,147.8 585.0,148.9 587.0,150.0 589.0,151.1 591.0,152.2 593.0,153.4 595.0,154.5 597.0,155.7 599.0,156.8 601.0,158.0 603.0,159.2 605.0,160.4 607.0,161.6 609.0,162.8 611.0,164.1 613.0,165.3 615.0,166.6 617.0,167.8 619.0,169.1 621.0,170.4 623.0,171.7 625.0,173.0 627.0,174.3 629.0,175.6 631.0,177.0 633.0,178.3 635.0,179.7 637.0,181.0 639.0,182.4 641.0,183.8 643.0,185.2 645.0,186.6 647.0,188.0 649.0,189.4 651.0,190.8 653.0,192.3 655.0,193.7 657.0,195.2 659.0,196.7 661.0,198.1 663.0,199.6 665.0,201.1 667.0,202.7 669.0,204.2 671.0,205.7 673.0,207.3 675.0,208.8 677.0,210.4 679.0,211.9 681.0,213.5 683.0,215.1 685.0,216.7 687.0,218.3 689.0,219.9 691.0,221.6 693.0,223.2 695.0,224.8 697.0,226.5 699.0,228.2 701.0,229.8 703.0,231.5 705.0,233.2 707.0,234.9 709.0,236.7 711.0,238.4 713.0,240.1 715.0,241.9 717.0,243.6 719.0,245.4 721.0,247.1 723.0,248.9 725.0,250.7 727.0,252.5 729.0,254.3 731.0,256.1 733.0,257.9 735.0,259.7 737.0,261.5 739.0,263.4 741.0,265.2 743.0,267.0 745.0,268.9 747.0,270.7 749.0,272.6 751.0,274.4 753.0,276.3 755.0,278.2 757.0,280.0 759.0,281.9 761.0,283.8 763.0,285.7 765.0,287.6 767.0,289.4 769.0,291.3 771.0,293.2 773.0,295.1 775.0,297.0 777.0,298.9 779.0,300.8 781.0,302.7 783.0,304.6 785.0,306.5 787.0,308.4 789.0,310.3 791.0,312.3 793.0,314.2 795.0,316.1 797.0,318.0 799.0,319.9 801.0,321.9 803.0,323.8 805.0,325.7 807.0,327.7 809.0,329.6 811.0,331.5 813.0,333.5 815.0,335.4 817.0,337.4 819.0,339.3 821.0,341.3 823.0,343.2 825.0,345.2 827.0,347.1 829.0,349.1 831.0,351.1 833.0,353.0 835.0,355.0 837.0,357.0 839.0,358.9 841.0,360.9 843.0,362.9 845.0,364.9 847.0,366.8 849.0,368.8 851.0,370.8 853.0,372.8 855.0,374.8 857.0,376.8 859.0,378.7 861.0,380.7 863.0,382.7 865.0,384.7 867.0,386.7 869.0,388.7 871.0,390.7 873.0,392.6 875.0,394.6 877.0,396.6 879.0,398.6 881.0,400.6 883.0,402.6 885.0,404.5 887.0,406.5 889.0,408.5 891.0,410.5 893.0,412.5 895.0,414.4 897.0,416.4 899.0,418.4 901.0,420.3 903.0,422.3 905.0,424.3 907.0,426.2 909.0,428.2 911.0,430.2 913.0,432.1 915.0,434.1 917.0,436.0 919.0,438.0 921.0,439.9 923.0,441.9 925.0,443.8 927.0,445.7 929.0,447.6 931.0,449.6 933.0,451.5 935.0,453.4 937.0,455.3 939.0,457.2 941.0,459.1 943.0,461.0 945.0,462.9 947.0,464.8 949.0,466.7 951.0,468.6 953.0,470.5 955.0,472.3 957.0,474.2 959.0,476.1 961.0,477.9 963.0,479.8 965.0,481.6 967.0,483.4 969.0,485.3 971.0,487.1 973.0,488.9 975.0,490.7 977.0,492.5 979.0,494.3 981.0,496.1 983.0,497.9 985.0,499.7 987.0,501.5 989.0,503.3 991.0,505.1 993.0,506.8 995.0,508.6 997.0,510.4 999.0,512.1 1001.0,513.9 1003.0,515.6 1005.0,517.4 1007.0,519.1 1009.0,520.8 1011.0,522.6 1013.0,524.3 1015.0,526.0 1017.0,527.7 1019.0,529.4 1021.0,531.1 1023.0,532.8 1025.0,534.5 1027.0,536.2 1029.0,537.9 1031.0,539.6 1033.0,541.3 1035.0,542.9 1037.0,544.6 1039.0,546.3 1041.0,547.9 1043.0,549.6 1045.0,551.2 1047.0,552.9 1049.0,554.5 1051.0,556.1 1053.0,557.8 1055.0,559.4 1057.0,561.0 1059.0,562.6 1061.0,564.2 1063.0,565.8 1065.0,567.4 1067.0,569.0 1069.0,570.6 1071.0,572.2 1073.0,573.8 1075.0,575.3 1077.0,576.9 1079.0,578.4 1081.0,580.0 1083.0,581.5 1085.0,583.1 1087.0,584.6 1089.0,586.2 1091.0,587.7 1093.0,589.2 1095.0,590.7 1097.0,592.2 1099.0,593.7 1101.0,595.2 1103.0,596.7 1105.0,598.2 1107.0,599.7 1109.0,601.2 1111.0,602.6 1113.0,604.1 1115.0,605.5 1117.0,607.0 1119.0,608.4 1121.0,609.9 1123.0,611.3 1125.0,612.7 1127.0,614.2 1129.0,615.6 1131.0,617.0 1133.0,618.4 1135.0,619.8 1137.0,621.2 1139.0,622.6 1141.0,624.0 1143.0,625.4 1145.0,626.7 1147.0,628.1 1149.0,629.5 1151.0,630.8 1153.0,632.2 1155.0,633.5 1157.0,634.9 1159.0,636.2 1161.0,637.5 1163.0,638.8 1165.0,640.2 1167.0,641.5 1169.0,642.8 1171.0,644.1 1173.0,645.4 1175.0,646.7 1177.0,648.0 1179.0,649.3 1181.0,650.5 1183.0,651.8 1185.0,653.1 1187.0,654.3 1189.0,655.6 1191.0,656.9 1193.0,658.1 1195.0,659.3 1197.0,660.6 1199.0,661.8 1201.0,663.0 1203.0,664.3 1205.0,665.5 1207.0,666.7 1209.0,667.9 1211.0,669.1 1213.0,670.3 1215.0,671.5 1217.0,672.7 1219.0,673.9 1221.0,675.1 1223.0,676.2 1225.0,677.4 1227.0,678.6 1229.0,679.7 1231.0,680.9 1233.0,682.0 1235.0,683.2 1237.0,684.3 1239.0,685.4 1241.0,686.6 1243.0,687.7 1245.0,688.8 1247.0,689.9 1249.0,691.1 1251.0,692.2 1253.0,693.3 1255.0,694.4 1257.0,695.5 1259.0,696.6 1261.0,697.6 1263.0,698.7 1265.0,699.8 1267.0,700.9 1269.0,701.9 1271.0,703.0 1273.0,704.1 1275.0,705.1 1277.0,706.2 1279.0,707.2 1281.0,708.3 1283.0,709.3 1285.0,710.3 1287.0,711.4 1289.0,712.4 1291.0,713.4 1293.0,714.4 1295.0,715.4 1297.0,716.4 1299.0,717.4 1301.0,718.4 1303.0,719.4 1305.0,720.4 1307.0,721.4 1309.0,722.4 1311.0,723.4 1313.0,724.3 1315.0,725.3 1317.0,726.3 1319.0,727.2 1321.0,728.2 1323.0,729.2 1325.0,730.1 1327.0,731.1 1329.0,732.0 1331.0,732.9 1333.0,733.9 1335.0,734.8 1337.0,735.7 1339.0,736.6 1341.0,737.6 1343.0,738.5 1345.0,739.4 1347.0,740.3 1349.0,741.2 1351.0,742.1 1353.0,743.0 1355.0,743.9 1357.0,744.8 1359.0,745.7 1361.0,746.6 1363.0,747.4 1365.0,748.3 1367.0,749.2 1369.0,750.0 1371.0,750.9 1373.0,751.8 1375.0,752.6 1377.0,753.5 1379.0,754.3 1381.0,755.2 1383.0,756.0 1385.0,756.9 1387.0,757.7 1389.0,758.5 1391.0,759.3 1393.0,760.2 1395.0,761.0 1397.0,761.8 1399.0,762.6 1401.0,763.4 1403.0,764.2 1405.0,765.0 1407.0,765.8 1409.0,766.6 1410.5,767.2" fill="none" stroke="#ffff00" stroke-width="7.5" stroke-linejoin="round" stroke-linecap="butt"/>
<polyline points="189.0,50.4 191.0,50.3 193.0,50.4 195.0,50.4 197.0,50.3 199.0,50.3 201.0,50.4 203.0,50.4 205.0,50.4 207.0,50.4 209.0,50.4 211.0,50.4 213.0,50.4 215.0,50.4 217.0,50.4 219.0,50.4 221.0,50.4 223.0,50.4 225.0,50.4 227.0,50.4 229.0,50.4 231.0,50.4 233.0,50.4 235.0,50.4 237.0,50.4 239.0,50.4 241.0,50.4 243.0,50.4 245.0,50.4 247.0,50.4 249.0,50.4 251.0,50.4 253.0,50.4 255.0,50.4 257.0,50.4 259.0,50.4 261.0,50.3 263.0,50.4 265.0,50.4 267.0,50.4 269.0,50.3 271.0,50.4 273.0,50.4 275.0,50.4 277.0,50.4 279.0,50.4 281.0,50.4 283.0,50.4 285.0,50.4 287.0,50.4 289.0,50.4 291.0,50.4 293.0,50.4 295.0,50.4 297.0,50.4 299.0,50.4 301.0,50.4 303.0,50.4 305.0,50.4 307.0,50.4 309.0,50.4 311.0,50.4 313.0,50.3 315.0,50.3 317.0,50.3 319.0,50.3 321.0,50.3 323.0,50.3 325.0,50.3 327.0,50.3 329.0,50.3 331.0,50.3 333.0,50.3 335.0,50.3 337.0,50.3 339.0,50.3 341.0,50.3 343.0,50.3 345.0,50.2 347.0,50.2 349.0,50.2 351.0,50.2 353.0,50.2 355.0,50.2 357.0,50.1 359.0,50.1 361.0,50.1 363.0,50.1 365.0,50.1 367.0,50.1 369.0,50.1 371.0,50.2 373.0,50.2 375.0,50.2 377.0,50.2 379.0,50.2 381.0,50.2 383.0,50.2 385.0,50.2 387.0,50.2 389.0,50.3 391.0,50.3 393.0,50.3 395.0,50.4 397.0,50.4 399.0,50.4 401.0,50.5 403.0,50.5 405.0,50.5 407.0,50.6 409.0,50.6 411.0,50.7 413.0,50.8 415.0,50.8 417.0,50.9 419.0,51.0 421.0,51.0 423.0,51.1 425.0,51.2 427.0,51.3 429.0,51.3 431.0,51.4 433.0,51.5 435.0,51.6 437.0,51.7 439.0,51.8 441.0,51.9 443.0,52.1 445.0,52.2 447.0,52.3 449.0,52.4 451.0,52.6 453.0,52.7 455.0,52.8 457.0,53.0 459.0,53.1 461.0,53.3 463.0,53.4 465.0,53.6 467.0,53.8 469.0,54.0 471.0,54.1 473.0,54.3 475.0,54.5 477.0,54.7 479.0,54.9 481.0,55.1 483.0,55.3 485.0,55.5 487.0,55.8 489.0,56.0 491.0,56.2 493.0,56.5 495.0,56.7 497.0,56.9 499.0,57.2 501.0,57.5 503.0,57.7 505.0,58.0 507.0,58.3 509.0,58.6 511.0,58.9 513.0,59.2 515.0,59.5 517.0,59.8 519.0,60.1 521.0,60.4 523.0,60.8 525.0,61.1 527.0,61.4 529.0,61.8 531.0,62.2 533.0,62.5 535.0,62.9 537.0,63.3 539.0,63.7 541.0,64.0 543.0,64.4 545.0,64.9 547.0,65.3 549.0,65.7 551.0,66.1 553.0,66.6 555.0,67.0 557.0,67.5 559.0,67.9 561.0,68.4 563.0,68.9 565.0,69.4 567.0,69.9 569.0,70.4 571.0,70.9 573.0,71.4 575.0,71.9 577.0,72.4 579.0,73.0 581.0,73.5 583.0,74.1 585.0,74.7 587.0,75.2 589.0,75.8 591.0,76.4 593.0,77.0 595.0,77.6 597.0,78.3 599.0,78.9 601.0,79.5 603.0,80.2 605.0,80.8 607.0,81.5 609.0,82.2 611.0,82.9 613.0,83.6 615.0,84.3 617.0,85.0 619.0,85.7 621.0,86.4 623.0,87.2 625.0,87.9 627.0,88.7 629.0,89.5 631.0,90.2 633.0,91.0 635.0,91.8 637.0,92.6 639.0,93.5 641.0,94.3 643.0,95.1 645.0,96.0 647.0,96.8 649.0,97.7 651.0,98.6 653.0,99.5 655.0,100.4 657.0,101.3 659.0,102.2 661.0,103.1 663.0,104.1 665.0,105.0 667.0,106.0 669.0,106.9 671.0,107.9 673.0,108.9 675.0,109.9 677.0,110.9 679.0,111.9 681.0,112.9 683.0,114.0 685.0,115.0 687.0,116.1 689.0,117.1 691.0,118.2 693.0,119.3 695.0,120.4 697.0,121.5 699.0,122.6 701.0,123.7 703.0,124.8 705.0,126.0 707.0,127.1 709.0,128.3 711.0,129.5 713.0,130.6 715.0,131.8 717.0,133.0 719.0,134.3 721.0,135.5 723.0,136.7 725.0,137.9 727.0,139.2 729.0,140.5 731.0,141.7 733.0,143.0 735.0,144.3 737.0,145.6 739.0,146.9 741.0,148.2 743.0,149.6 745.0,150.9 747.0,152.2 749.0,153.6 751.0,155.0 753.0,156.4 755.0,157.7 757.0,159.1 759.0,160.6 761.0,162.0 763.0,163.4 765.0,164.8 767.0,166.3 769.0,167.8 771.0,169.2 773.0,170.7 775.0,172.2 777.0,173.7 779.0,175.2 781.0,176.7 783.0,178.2 785.0,179.8 787.0,181.3 789.0,182.9 791.0,184.4 793.0,186.0 795.0,187.6 797.0,189.2 799.0,190.7 801.0,192.3 803.0,193.9 805.0,195.5 807.0,197.2 809.0,198.8 811.0,200.4 813.0,202.0 815.0,203.7 817.0,205.3 819.0,207.0 821.0,208.6 823.0,210.3 825.0,212.0 827.0,213.6 829.0,215.3 831.0,217.0 833.0,218.6 835.0,220.3 837.0,222.0 839.0,223.7 841.0,225.4 843.0,227.1 845.0,228.8 847.0,230.5 849.0,232.2 851.0,233.9 853.0,235.6 855.0,237.3 857.0,239.0 859.0,240.8 861.0,242.5 863.0,244.2 865.0,245.9 867.0,247.7 869.0,249.4 871.0,251.1 873.0,252.9 875.0,254.6 877.0,256.3 879.0,258.1 881.0,259.8 883.0,261.6 885.0,263.3 887.0,265.1 889.0,266.9 891.0,268.6 893.0,270.4 895.0,272.2 897.0,273.9 899.0,275.7 901.0,277.5 903.0,279.3 905.0,281.0 907.0,282.8 909.0,284.6 911.0,286.4 913.0,288.2 915.0,290.0 917.0,291.7 919.0,293.5 921.0,295.3 923.0,297.1 925.0,298.9 927.0,300.7 929.0,302.5 931.0,304.3 933.0,306.0 935.0,307.8 937.0,309.6 939.0,311.4 941.0,313.2 943.0,315.0 945.0,316.8 947.0,318.6 949.0,320.4 951.0,322.1 953.0,323.9 955.0,325.7 957.0,327.5 959.0,329.3 961.0,331.0 963.0,332.8 965.0,334.6 967.0,336.4 969.0,338.1 971.0,339.9 973.0,341.7 975.0,343.5 977.0,345.2 979.0,347.0 981.0,348.7 983.0,350.5 985.0,352.2 987.0,354.0 989.0,355.7 991.0,357.5 993.0,359.2 995.0,361.0 997.0,362.7 999.0,364.4 1001.0,366.1 1003.0,367.9 1005.0,369.6 1007.0,371.3 1009.0,373.0 1011.0,374.7 1013.0,376.4 1015.0,378.1 1017.0,379.8 1019.0,381.5 1021.0,383.2 1023.0,384.9 1025.0,386.5 1027.0,388.2 1029.0,389.9 1031.0,391.6 1033.0,393.2 1035.0,394.9 1037.0,396.5 1039.0,398.2 1041.0,399.8 1043.0,401.5 1045.0,403.1 1047.0,404.8 1049.0,406.4 1051.0,408.1 1053.0,409.7 1055.0,411.3 1057.0,413.0 1059.0,414.6 1061.0,416.2 1063.0,417.8 1065.0,419.4 1067.0,421.1 1069.0,422.7 1071.0,424.3 1073.0,425.9 1075.0,427.5 1077.0,429.1 1079.0,430.7 1081.0,432.3 1083.0,433.9 1085.0,435.5 1087.0,437.1 1089.0,438.7 1091.0,440.3 1093.0,441.8 1095.0,443.4 1097.0,445.0 1099.0,446.6 1101.0,448.2 1103.0,449.8 1105.0,451.3 1107.0,452.9 1109.0,454.5 1111.0,456.1 1113.0,457.6 1115.0,459.2 1117.0,460.8 1119.0,462.3 1121.0,463.9 1123.0,465.5 1125.0,467.0 1127.0,468.6 1129.0,470.2 1131.0,471.7 1133.0,473.3 1135.0,474.8 1137.0,476.4 1139.0,478.0 1141.0,479.5 1143.0,481.1 1145.0,482.6 1147.0,484.1 1149.0,485.7 1151.0,487.2 1153.0,488.8 1155.0,490.3 1157.0,491.8 1159.0,493.4 1161.0,494.9 1163.0,496.4 1165.0,497.9 1167.0,499.5 1169.0,501.0 1171.0,502.5 1173.0,504.0 1175.0,505.5 1177.0,507.0 1179.0,508.5 1181.0,510.0 1183.0,511.5 1185.0,513.0 1187.0,514.5 1189.0,516.0 1191.0,517.5 1193.0,518.9 1195.0,520.4 1197.0,521.9 1199.0,523.4 1201.0,524.8 1203.0,526.3 1205.0,527.7 1207.0,529.2 1209.0,530.6 1211.0,532.1 1213.0,533.5 1215.0,535.0 1217.0,536.4 1219.0,537.8 1221.0,539.2 1223.0,540.7 1225.0,542.1 1227.0,543.5 1229.0,544.9 1231.0,546.3 1233.0,547.7 1235.0,549.1 1237.0,550.5 1239.0,551.9 1241.0,553.3 1243.0,554.7 1245.0,556.0 1247.0,557.4 1249.0,558.8 1251.0,560.1 1253.0,561.5 1255.0,562.9 1257.0,564.2 1259.0,565.6 1261.0,566.9 1263.0,568.2 1265.0,569.6 1267.0,570.9 1269.0,572.2 1271.0,573.6 1273.0,574.9 1275.0,576.2 1277.0,577.5 1279.0,578.8 1281.0,580.1 1283.0,581.4 1285.0,582.7 1287.0,584.0 1289.0,585.3 1291.0,586.5 1293.0,587.8 1295.0,589.1 1297.0,590.4 1299.0,591.6 1301.0,592.9 1303.0,594.1 1305.0,595.4 1307.0,596.6 1309.0,597.9 1311.0,599.1 1313.0,600.4 1315.0,601.6 1317.0,602.8 1319.0,604.0 1321.0,605.3 1323.0,606.5 1325.0,607.7 1327.0,608.9 1329.0,610.1 1331.0,611.3 1333.0,612.5 1335.0,613.7 1337.0,614.9 1339.0,616.1 1341.0,617.3 1343.0,618.4 1345.0,619.6 1347.0,620.8 1349.0,622.0 1351.0,623.1 1353.0,624.3 1355.0,625.4 1357.0,626.6 1359.0,627.8 1361.0,628.9 1363.0,630.0 1365.0,631.2 1367.0,632.3 1369.0,633.5 1371.0,634.6 1373.0,635.7 1375.0,636.8 1377.0,638.0 1379.0,639.1 1381.0,640.2 1383.0,641.3 1385.0,642.4 1387.0,643.5 1389.0,644.6 1391.0,645.7 1393.0,646.8 1395.0,647.9 1397.0,649.0 1399.0,650.0 1401.0,651.1 1403.0,652.2 1405.0,653.3 1407.0,654.3 1409.0,655.4 1410.5,656.2" fill="none" stroke="#ff8800" stroke-width="7.5" stroke-linejoin="round" stroke-linecap="butt"/>
<g fill="none" stroke="#ff0000" stroke-width="7.3"><circle cx="189.0" cy="883.1" r="10.8"/><circle cx="311.1" cy="883.1" r="10.8"/><circle cx="433.3" cy="886.8" r="10.8"/><circle cx="555.5" cy="907.5" r="10.8"/><circle cx="677.6" cy="932.2" r="10.8"/><circle cx="799.8" cy="952.5" r="10.8"/><circle cx="921.9" cy="965.7" r="10.8"/><circle cx="1044.0" cy="973.8" r="10.8"/><circle cx="1166.2" cy="985.0" r="10.8"/><circle cx="1288.4" cy="980.3" r="10.8"/><circle cx="1410.5" cy="986.4" r="10.8"/></g>
<g fill="none" stroke="#66ff88" stroke-width="7.3"><circle cx="189.0" cy="521.2" r="10.8"/><circle cx="311.1" cy="527.2" r="10.8"/><circle cx="433.3" cy="530.0" r="10.8"/><circle cx="555.5" cy="591.8" r="10.8"/><circle cx="677.6" cy="696.8" r="10.8"/><circle cx="799.8" cy="761.9" r="10.8"/><circle cx="921.9" cy="830.9" r="10.8"/><circle cx="1044.0" cy="878.7" r="10.8"/><circle cx="1166.2" cy="906.0" r="10.8"/><circle cx="1288.4" cy="930.7" r="10.8"/><circle cx="1410.5" cy="942.4" r="10.8"/></g>
<g fill="none" stroke="#0000ff" stroke-width="7.3"><circle cx="189.0" cy="223.7" r="10.8"/><circle cx="311.1" cy="235.9" r="10.8"/><circle cx="433.3" cy="237.0" r="10.8"/><circle cx="555.5" cy="305.0" r="10.8"/><circle cx="677.6" cy="416.2" r="10.8"/><circle cx="799.8" cy="523.0" r="10.8"/><circle cx="921.9" cy="634.3" r="10.8"/><circle cx="1044.0" cy="709.0" r="10.8"/><circle cx="1166.2" cy="766.0" r="10.8"/><circle cx="1288.4" cy="819.0" r="10.8"/><circle cx="1410.5" cy="862.9" r="10.8"/></g>
<g fill="none" stroke="#ffff00" stroke-width="7.3"><circle cx="189.0" cy="100.4" r="10.8"/><circle cx="311.1" cy="104.4" r="10.8"/><circle cx="433.3" cy="101.9" r="10.8"/><circle cx="555.5" cy="137.8" r="10.8"/><circle cx="677.6" cy="218.2" r="10.8"/><circle cx="799.8" cy="318.4" r="10.8"/><circle cx="921.9" cy="431.9" r="10.8"/><circle cx="1044.0" cy="548.6" r="10.8"/><circle cx="1166.2" cy="628.4" r="10.8"/><circle cx="1288.4" cy="681.8" r="10.8"/><circle cx="1410.5" cy="752.7" r="10.8"/></g>
<g fill="none" stroke="#ff8800" stroke-width="7.3"><circle cx="189.0" cy="50.2" r="10.8"/><circle cx="311.1" cy="51.9" r="10.8"/><circle cx="433.3" cy="54.1" r="10.8"/><circle cx="555.5" cy="70.7" r="10.8"/><circle cx="677.6" cy="118.0" r="10.8"/><circle cx="799.8" cy="192.4" r="10.8"/><circle cx="921.9" cy="298.1" r="10.8"/><circle cx="1044.0" cy="418.8" r="10.8"/><circle cx="1166.2" cy="512.2" r="10.8"/><circle cx="1288.4" cy="587.0" r="10.8"/><circle cx="1410.5" cy="660.9" r="10.8"/></g>
<line x1="186.7" y1="31" x2="186.7" y2="995" stroke="#dcdcdc" stroke-width="2"/><line x1="189" y1="996.2" x2="1412" y2="996.2" stroke="#b8b8b8" stroke-width="1.6"/><line x1="189" y1="33.4" x2="1410" y2="33.4" stroke="#e6e6e6" stroke-width="1.4"/><line x1="189.05" y1="30.3" x2="189.05" y2="995.2" stroke="#383838" stroke-width="2.2"/><line x1="188" y1="994.0" x2="1412" y2="994.0" stroke="#3a3a3a" stroke-width="2.3"/><line x1="188" y1="31.3" x2="1412" y2="31.3" stroke="#2a2a2a" stroke-width="2"/>
<g font-family='"Liberation Sans", sans-serif' font-size="52" fill="#000"><text font-size="53" transform="translate(174.04,1054.60) scale(1.0280,1)">0</text><text font-size="53" transform="translate(396.79,1054.60) scale(1.0058,1)">0.2</text><text font-size="53" transform="translate(640.26,1054.60) scale(1.0200,1)">0.4</text><text font-size="53" transform="translate(883.61,1054.60) scale(1.0464,1)">0.6</text><text font-size="53" transform="translate(1128.11,1054.60) scale(1.0464,1)">0.8</text><text font-size="53" transform="translate(148.89,1014.10) scale(1.0040,1)">0</text><text font-size="53" transform="translate(118.42,821.50) scale(1.0283,1)">20</text><text font-size="53" transform="translate(120.51,628.90) scale(0.9909,1)">40</text><text font-size="53" transform="translate(118.84,436.30) scale(1.0208,1)">60</text><text font-size="53" transform="translate(118.96,243.70) scale(1.0185,1)">80</text><text font-size="53" transform="translate(119.27,51.10) scale(1.0130,1)">00</text><text transform="translate(433.45,1111.60) scale(1.0163,1)">Standard Deviation of Jitter(ns)</text><text transform="translate(61.90,885.45) rotate(-90) scale(1.0159,1)">Correct Ranging Probability (%)</text></g>
<rect x="1033.9" y="32.7" width="376.5999999999999" height="361.3" fill="#fff" stroke="none"/>
<line x1="1033.9" y1="32.7" x2="1033.9" y2="395.0" stroke="#333" stroke-width="2.6"/>
<line x1="1032.9" y1="394.0" x2="1412" y2="394.0" stroke="#333" stroke-width="2"/>
<line x1="1410.5" y1="33" x2="1410.5" y2="995" stroke="#6e6e6e" stroke-width="4"/>
<line x1="1032.9" y1="32.7" x2="1412.5" y2="32.7" stroke="#111" stroke-width="3.6"/>
<circle cx="1115.2" cy="75.2" r="10.8" fill="none" stroke="#ff0000" stroke-width="7.2"/>
<circle cx="1115.2" cy="144.4" r="10.8" fill="none" stroke="#66ff88" stroke-width="7.2"/>
<circle cx="1115.2" cy="213.7" r="10.8" fill="none" stroke="#0000ff" stroke-width="7.2"/>
<circle cx="1115.2" cy="282.9" r="10.8" fill="none" stroke="#ffff00" stroke-width="7.2"/>
<circle cx="1115.2" cy="352.2" r="10.8" fill="none" stroke="#ff8800" stroke-width="7.2"/>
<g font-family='"Liberation Sans", sans-serif' font-size="52" fill="#000"><text transform="translate(1228.13,93.50) scale(1.0165,1)">Photon</text><text transform="translate(1182.70,163.30) scale(1.1348,1)">2</text><text transform="translate(1228.13,163.30) scale(1.0165,1)">Photon</text><text transform="translate(1184.00,233.10) scale(1.0520,1)">3</text><text transform="translate(1229.17,233.10) scale(1.0105,1)">photon</text><text transform="translate(1184.60,302.90) scale(1.0038,1)">4</text><text transform="translate(1228.12,302.90) scale(1.0203,1)">Photon</text><text transform="translate(1184.27,372.70) scale(1.0160,1)">5</text><text transform="translate(1228.12,372.70) scale(1.0203,1)">Photon</text></g>
<path fill="#000" d="M1415.30,1018.30 L1415.30,1053.60 L1410.71,1053.60 L1410.71,1028.89 L1401.36,1028.89 L1401.36,1025.89 C1406.47,1025.36 1409.48,1022.54 1410.89,1018.30 Z M109.60,14.60 L109.60,50.90 L104.88,50.90 L104.88,25.49 L95.26,25.49 L95.26,22.40 C100.52,21.86 103.61,18.96 105.06,14.60 Z M1203.90,56.50 L1203.90,93.50 L1199.09,93.50 L1199.09,67.60 L1189.29,67.60 L1189.29,64.45 C1194.65,63.90 1197.80,60.94 1199.28,56.50 Z"/>
</svg>
</body></html>
